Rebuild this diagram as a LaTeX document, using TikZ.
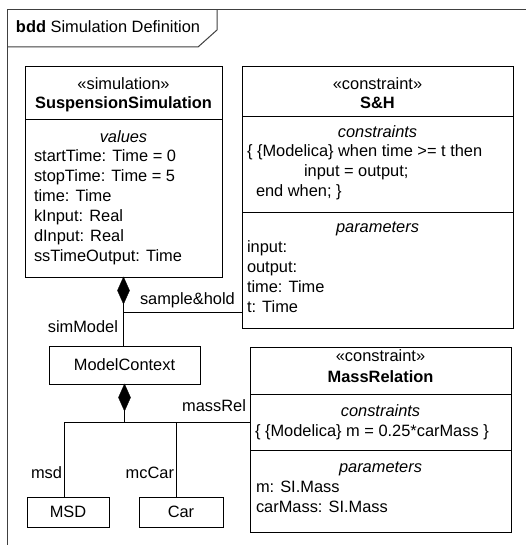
\documentclass[tikz,border=0pt]{standalone}
\usepackage{fontspec}
\setmainfont{Liberation Sans}
\usetikzlibrary{shapes.geometric}
\begin{document}
\begin{tikzpicture}[x=1pt,y=-1pt,
  txt/.style={inner sep=0pt, outer sep=0pt, font=\fontsize{16.4}{20}\selectfont, text height=11.8pt, text depth=3.6pt},
  lft/.style={txt, anchor=west},
  rgt/.style={txt, anchor=east},
  ctr/.style={txt, anchor=center},
  blockbox/.style={draw=black, line width=0.8pt, rectangle, anchor=north west, inner sep=0pt, outer sep=0pt},
  plainbox/.style={draw=black, line width=0.8pt, rectangle, inner sep=0pt, outer sep=0pt, font=\fontsize{16.4}{20}\selectfont},
  divider/.style={draw=black, line width=0.8pt},
  conn/.style={draw=black, line width=0.8pt},
  comp/.style={diamond, fill=black, draw=black, line width=0.4pt, inner sep=0pt, outer sep=0pt, minimum width=12pt, minimum height=27pt, anchor=north},
  frameline/.style={draw=black!75, line width=1pt}
]
\useasboundingbox (0,0) rectangle (526,545);
\fill[white] (0,0) rectangle (526,545);

% diagram frame and name tab
\draw[frameline] (7,560) -- (7,10) -- (540,10);
\draw[frameline] (7,47) -- (198,47) -- (217,30) -- (217,10);
\node[lft] (title) at (16,28) {\textbf{bdd} Simulation Definition};

% SuspensionSimulation block
\node[blockbox, minimum width=197pt, minimum height=211pt] (sim) at (25,66) {};
\draw[divider] (25,119) -- (222,119);
\node[ctr] (simst) at (123.5,85) {«simulation»};
\node[ctr] (simname) at (123.5,104) {\bfseries SuspensionSimulation};
\node[ctr] (simvals) at (123.5,138) {\itshape values};
\node[lft] (v1) at (34,157) {startTime: Time = 0};
\node[lft] (v2) at (34,177) {stopTime: Time = 5};
\node[lft] (v3) at (34,197) {time: Time};
\node[lft] (v4) at (34,217) {kInput: Real};
\node[lft] (v5) at (34,237) {dInput: Real};
\node[lft] (v6) at (34,257) {ssTimeOutput: Time};

% S&H constraint block
\node[blockbox, minimum width=271pt, minimum height=262pt] (sh) at (242,66) {};
\draw[divider] (242,116) -- (513,116);
\draw[divider] (242,212) -- (513,212);
\node[ctr] (shst) at (377.5,85) {«constraint»};
\node[ctr] (shname) at (377.5,104) {\bfseries S\&H};
\node[ctr] (shcon) at (377.5,133) {\itshape constraints};
\node[lft] (shc1) at (247,152) {\{ \{Modelica\} when time >= t then};
\node[lft] (shc2) at (304,172) {input = output;};
\node[lft] (shc3) at (256,192) {end when; \}};
\node[ctr] (shpar) at (377.5,228) {\itshape parameters};
\node[lft] (shp1) at (247,248) {input:};
\node[lft] (shp2) at (247,268) {output:};
\node[lft] (shp3) at (247,288) {time: Time};
\node[lft] (shp4) at (247,308) {t: Time};

% MassRelation constraint block
\node[blockbox, minimum width=261pt, minimum height=185pt] (mr) at (250,347) {};
\draw[divider] (250,394) -- (511,394);
\draw[divider] (250,450) -- (511,450);
\node[ctr] (mrst) at (380.5,357) {«constraint»};
\node[ctr] (mrname) at (380.5,378) {\bfseries MassRelation};
\node[ctr] (mrcon) at (380.5,412) {\itshape constraints};
\node[lft] (mrc1) at (255,432) {\{ \{Modelica\} m = 0.25*carMass \}};
\node[ctr] (mrpar) at (380.5,468) {\itshape parameters};
\node[lft] (mrp1) at (256,488) {m: SI.Mass};
\node[lft] (mrp2) at (256,508) {carMass: SI.Mass};

% simple blocks
\node[plainbox, minimum width=151pt, minimum height=38pt] (mc) at (124.5,365) {ModelContext};
\node[plainbox, minimum width=82pt, minimum height=30pt] (msd) at (68,512) {MSD};
\node[plainbox, minimum width=84pt, minimum height=30pt] (car) at (181,512) {Car};

% composition from SuspensionSimulation
\node[comp] (d1) at (sim.south) {};
\coordinate (j1) at (123.5,312);
\draw[conn] (d1.south) -- (d1.south |- mc.north);
\draw[conn] (j1) -- (j1 -| sh.west);
\node[lft] (lsh) at (140,300) {sample\&hold};
\node[rgt] (lsm) at (118,328) {simModel};

% composition from ModelContext
\node[comp] (d2) at (mc.south) {};
\coordinate (j2) at (124,422);
\draw[conn] ([xshift=-4pt]msd.north) |- (mr.west |- j2);
\draw[conn] (d2.south) -- (d2.south |- j2);
\draw[conn] ([xshift=-5pt]car.north) -- ([xshift=-5pt]car.north |- j2);
\node[rgt] (lmr) at (246,407) {massRel};
\node[rgt] (lmsd) at (62,474) {msd};
\node[rgt] (lcar) at (174,474) {mcCar};
\end{tikzpicture}
\end{document}
